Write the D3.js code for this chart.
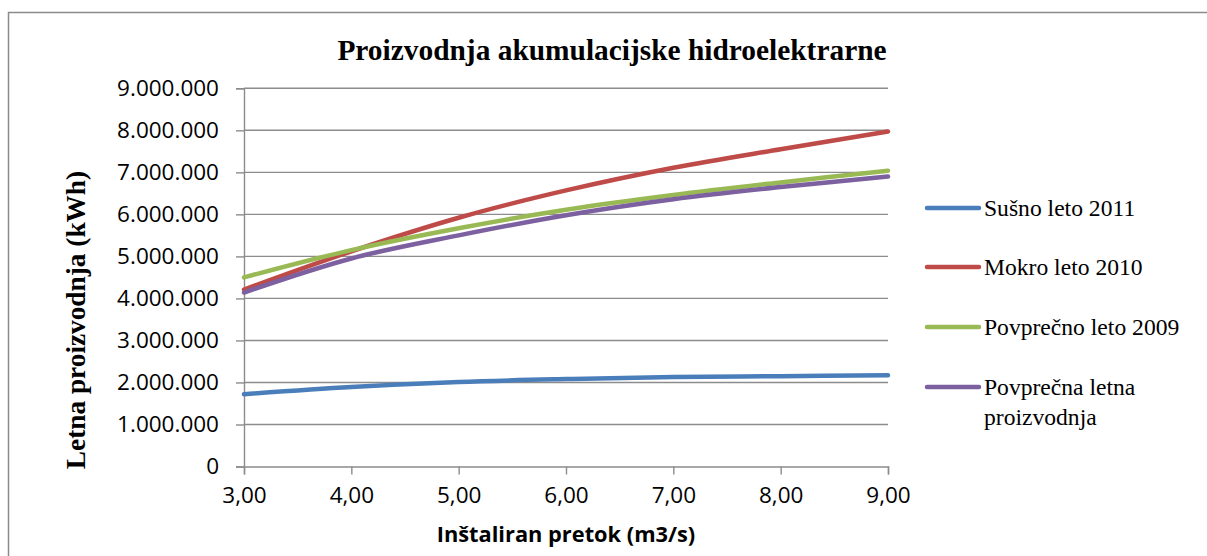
<!DOCTYPE html>
<html>
<head>
<meta charset="utf-8">
<script src="https://cdn.jsdelivr.net/npm/d3@7"></script>
<style>
  html, body { margin: 0; padding: 0; background: #fff; }
  svg { display: block; }
</style>
</head>
<body>
<svg id="chart" width="1207" height="556"></svg>
<script>
// Installed flow (m3/s)
const flows = [3, 4, 5, 6, 7, 8, 9];
// Annual production (kWh) per scenario
const dryYear2011 = [1720000, 1890000, 2010000, 2080000, 2130000, 2150000, 2170000];
const wetYear2010 = [4210000, 5120000, 5920000, 6570000, 7110000, 7550000, 7970000];
const avgYear2009 = [4500000, 5150000, 5670000, 6110000, 6460000, 6760000, 7040000];
const avgAnnual   = [4140000, 4950000, 5500000, 5980000, 6360000, 6650000, 6900000];

const seriesNames = ["Sušno leto 2011", "Mokro leto 2010", "Povprečno leto 2009", "Povprečna letna proizvodnja"];
const seriesValues = [dryYear2011, wetYear2010, avgYear2009, avgAnnual];
const seriesColors = ["#4a7ebb", "#be4b48", "#98b954", "#7d60a0"];

const yTicks = [0, 1000000, 2000000, 3000000, 4000000, 5000000, 6000000, 7000000, 8000000, 9000000];
const xTicks = [3, 4, 5, 6, 7, 8, 9];

const titleText = "Proizvodnja akumulacijske hidroelektrarne";
const xTitleText = "Inštaliran pretok (m3/s)";
const yTitleText = "Letna proizvodnja (kWh)";

const svg = d3.select("#chart");
const serif = "'Liberation Serif', 'Times New Roman', serif";
const sans = "'Open Sans', 'Noto Sans', sans-serif";
const gridColor = "#8c8c8c";

// chart frame
svg.append("rect")
  .attr("x", 8.5).attr("y", 12.5)
  .attr("width", 1230).attr("height", 600)
  .attr("fill", "none").attr("stroke", "#8a8a8a").attr("stroke-width", 1.5);

const x = d3.scaleLinear().domain([3, 9]).range([244, 888]);
const y = d3.scaleLinear().domain([0, 9000000]).range([466.5, 88.3]);

const fmtY = v => v === 0 ? "0" : d3.format(",")(v).replace(/,/g, ".");
const fmtX = v => v.toFixed(2).replace(".", ",");

// horizontal gridlines
svg.append("g")
  .selectAll("line")
  .data(yTicks.slice(1))
  .join("line")
  .attr("x1", x(3)).attr("x2", x(9))
  .attr("y1", d => y(d)).attr("y2", d => y(d))
  .attr("stroke", gridColor).attr("stroke-width", 1.4);

// y axis
const yAxis = svg.append("g")
  .attr("transform", `translate(${x(3)},0)`)
  .call(d3.axisLeft(y).tickValues(yTicks).tickFormat(fmtY).tickSize(8).tickPadding(17));
yAxis.select(".domain").attr("stroke", gridColor).attr("stroke-width", 1.4);
yAxis.selectAll(".tick line").attr("stroke", gridColor).attr("stroke-width", 1.4);
yAxis.selectAll(".tick text")
  .attr("font-family", sans).attr("font-size", 22.5).attr("fill", "#000");

// x axis
const xAxis = svg.append("g")
  .attr("transform", `translate(0,${y(0)})`)
  .call(d3.axisBottom(x).tickValues(xTicks).tickFormat(fmtX).tickSize(8).tickPadding(13));
xAxis.select(".domain").attr("stroke", gridColor).attr("stroke-width", 1.4);
xAxis.selectAll(".tick line").attr("stroke", gridColor).attr("stroke-width", 1.4);
xAxis.selectAll(".tick text")
  .attr("font-family", sans).attr("font-size", 22.5).attr("fill", "#000");

// series lines
const line = d3.line()
  .x((d, i) => x(flows[i]))
  .y(d => y(d))
  .curve(d3.curveCatmullRom.alpha(0.5));

svg.append("g")
  .selectAll("path")
  .data(seriesValues)
  .join("path")
  .attr("d", d => line(d))
  .attr("fill", "none")
  .attr("stroke", (d, i) => seriesColors[i])
  .attr("stroke-width", 4.5)
  .attr("stroke-linecap", "round")
  .attr("stroke-linejoin", "round");

// title
svg.append("text")
  .attr("x", 612).attr("y", 60)
  .attr("text-anchor", "middle")
  .attr("font-family", serif).attr("font-weight", "bold").attr("font-size", 29.4)
  .text(titleText);

// x axis title
svg.append("text")
  .attr("x", 566).attr("y", 542)
  .attr("text-anchor", "middle")
  .attr("font-family", sans).attr("font-weight", "bold").attr("font-size", 21.8)
  .text(xTitleText);

// y axis title
svg.append("text")
  .attr("transform", "translate(85,320) rotate(-90)")
  .attr("text-anchor", "middle")
  .attr("font-family", serif).attr("font-weight", "bold").attr("font-size", 27.3)
  .text(yTitleText);

// legend
const legendRows = [
  { name: seriesNames[0], lines: ["Sušno leto 2011"], cy: 208 },
  { name: seriesNames[1], lines: ["Mokro leto 2010"], cy: 267 },
  { name: seriesNames[2], lines: ["Povprečno leto 2009"], cy: 327 },
  { name: seriesNames[3], lines: ["Povprečna letna", "proizvodnja"], cy: 387 }
];
const legend = svg.append("g");
const item = legend.selectAll("g")
  .data(legendRows)
  .join("g")
  .attr("transform", d => `translate(0,${d.cy})`);
item.append("line")
  .attr("x1", 927).attr("x2", 979)
  .attr("stroke", (d, i) => seriesColors[i])
  .attr("stroke-width", 4.5)
  .attr("stroke-linecap", "round");
item.append("text")
  .attr("font-family", serif).attr("font-size", 23.6).attr("fill", "#000")
  .selectAll("tspan")
  .data(d => d.lines)
  .join("tspan")
  .attr("x", 984)
  .attr("y", (d, i) => 8 + i * 30)
  .text(d => d);
</script>
</body>
</html>
